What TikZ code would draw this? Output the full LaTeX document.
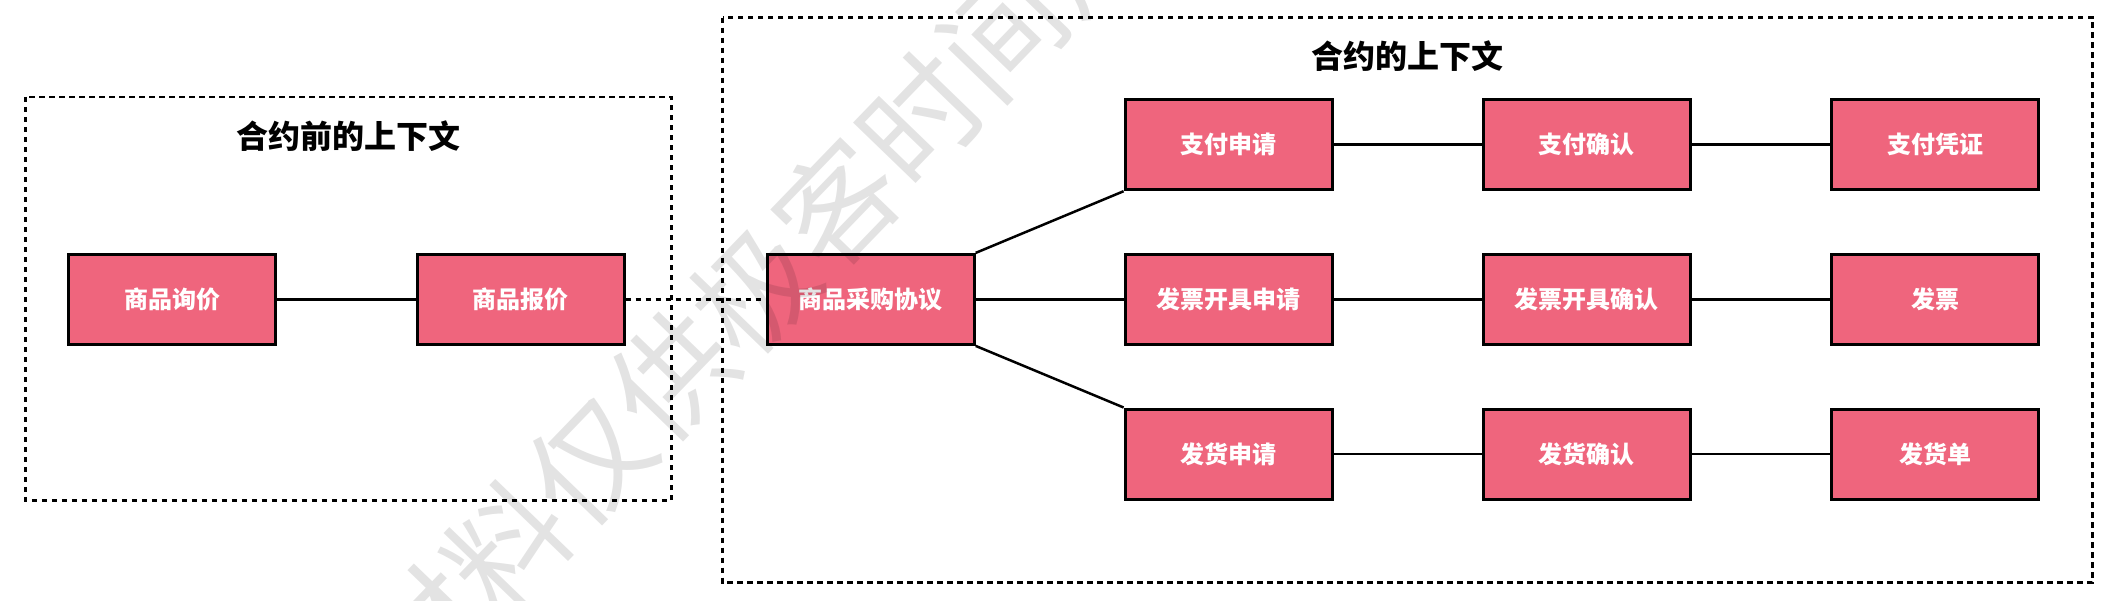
\documentclass[tikz,border=0pt]{standalone}
\usepackage{fontspec}
\newfontfamily\cjk{Noto Sans CJK SC}
\definecolor{boxfill}{HTML}{EF657D}
\begin{document}
\begin{tikzpicture}[x=1pt,y=-1pt,
  box/.style={draw=black,line width=3pt,fill=boxfill,minimum width=207pt,minimum height=90pt,inner sep=0pt,
    font=\cjk\bfseries\fontsize{24pt}{26pt}\selectfont,text=white},
  link/.style={draw=black,line width=2.5pt},
  dlink/.style={draw=black,line width=2.8pt,dash pattern=on 5.5pt off 4.5pt},
  frame/.style={draw=black,line width=2.8pt,dash pattern=on 5.5pt off 4.5pt},
  ttl/.style={font=\cjk\bfseries\fontsize{32pt}{36pt}\selectfont,text=black}]
\useasboundingbox (0,0) rectangle (2110,600);
% frames
\draw[frame] (25.6,96.9) rectangle (671.5,500.6);
\draw[frame] (722.6,17.5) rectangle (2092.6,582.7);
\node[ttl] (t1) at (348.5,136) {合约前的上下文};
\node[ttl] (t2) at (1407.6,56.5) {合约的上下文};
% nodes
\node[box] (xj) at (172.2,299.4) {商品询价};
\node[box] (bj) at (520.7,299.4) {商品报价};
\node[box] (xy) at (870.7,299.4) {商品采购协议};
\node[box] (zfsq) at (1228.6,144.7) {支付申请};
\node[box] (zfqr) at (1586.6,144.7) {支付确认};
\node[box] (zfpz) at (1935.1,144.7) {支付凭证};
\node[box] (fpsq) at (1228.6,299.4) {发票开具申请};
\node[box] (fpqr) at (1586.6,299.4) {发票开具确认};
\node[box] (fp) at (1935.1,299.4) {发票};
\node[box] (fhsq) at (1228.6,454) {发货申请};
\node[box] (fhqr) at (1586.6,454) {发货确认};
\node[box] (fhd) at (1935.1,454) {发货单};
% connectors
\draw[link] (xj) -- (bj);
\draw[dlink] (bj) -- (xy);
\draw[link] (xy.north east) -- (zfsq.south west);
\draw[link] (xy) -- (fpsq);
\draw[link] (xy.south east) -- (fhsq.north west);
\draw[link] (zfsq) -- (zfqr);
\draw[link] (zfqr) -- (zfpz);
\draw[link] (fpsq) -- (fpqr);
\draw[link] (fpqr) -- (fp);
\draw[link] (fhsq) -- (fhqr);
\draw[link] (fhqr) -- (fhd);
% watermark
\begin{scope}
\clip (0,0) rectangle (2110,600);
\node[rotate=46,text=black,text opacity=0.11,font=\cjk\fontsize{119pt}{130pt}\selectfont,inner sep=0pt] (wm) at (796,247) {材料仅供极客时间用户};
\end{scope}
\end{tikzpicture}
\end{document}
